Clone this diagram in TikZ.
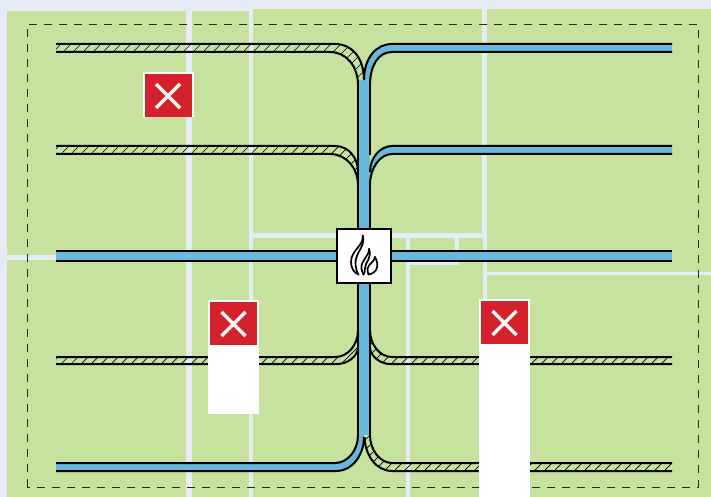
\documentclass[tikz,border=0pt]{standalone}
\definecolor{bandc}{HTML}{E6ECF6}
\definecolor{fieldc}{HTML}{C7E29E}
\definecolor{pipec}{HTML}{6AB7DE}
\definecolor{crossc}{HTML}{D4212C}
\tikzset{
  field/.style={fill=fieldc},
  pipeline/.style={draw=black,line width=2pt},
  pipefill/.style={fill=pipec},
  hatchline/.style={draw=black,line width=.7pt},
  boundary/.style={draw=black!85,line width=.8pt,dash pattern=on 8pt off 7pt},
  closedbase/.style={fill=white},
  closedred/.style={fill=crossc},
  closedx/.style={draw=white,line width=3.5pt},
}
\newcommand{\hatchfill}[1]{%
  \begin{scope}
    \clip #1;
    \foreach \k in {5,15,...,1205} {\draw[hatchline] (\k,0) -- (0,\k);}
  \end{scope}}
\newcommand{\closedmark}[3]{% centre x, centre y of red box, bottom of white
  \fill[closedbase] (#1-25.5,#2-24) rectangle (#1+25.5,#3);
  \fill[closedred] (#1-23.5,#2-22) rectangle (#1+23.5,#2+21);
  \draw[closedx] (#1-12,#2-12) -- (#1+12,#2+12) (#1-12,#2+12) -- (#1+12,#2-12);}
\begin{document}
\begin{tikzpicture}[x=1pt,y=-1pt]
\useasboundingbox (0,0) rectangle (711,497);
\fill[bandc] (0,0) rectangle (711,497);
% fields
\fill[field] (7,11) rectangle (186,255);
\fill[field] (192,11) rectangle (249,255);
\fill[field] (253,9) rectangle (482,233);
\fill[field] (487,9) rectangle (711,272);
\fill[field] (7,260) rectangle (186,497);
\fill[field] (192,260) rectangle (249,497);
\fill[field] (253,238) rectangle (406,497);
\fill[field] (410,238) rectangle (455,262);
\fill[field] (459,238) rectangle (483,265) -- (410,265) rectangle (483,497);
\fill[field] (487,275) rectangle (711,497);
% boundary
\draw[boundary] (27,487) -- (27,24) -- (698,24) -- (698,487) -- cycle;
% hatched pipes
\hatchfill{(56,44) -- (335,44) .. controls (352,44) and (364,58) .. (364,80) -- (358,85) .. controls (356,66) and (346,52) .. (330,52) -- (56,52) -- cycle}
\hatchfill{(56,146) -- (335,146) .. controls (349,146) and (358,158) .. (358,172) -- (358,185) .. controls (356,168) and (346,154) .. (330,154) -- (56,154) -- cycle}
\hatchfill{(56,357) -- (335,357) .. controls (348,357) and (358,345) .. (358,330) -- (358,347) .. controls (356,356) and (348,364) .. (337,364) -- (56,364) -- cycle}
\hatchfill{(672,357) -- (392,357) .. controls (380,357) and (370,345) .. (370,330) -- (370,347) .. controls (372,356) and (380,364) .. (390,364) -- (672,364) -- cycle}
\hatchfill{(672,463) -- (392,463) .. controls (380,463) and (370,450) .. (370,435) -- (364.5,435) .. controls (365,455) and (376,471) .. (392,471) -- (672,471) -- cycle}
% blue fills
\fill[pipefill] (56,251) rectangle (672,260.5);
\fill[pipefill] (358,80) rectangle (370,435);
\fill[pipefill] (672,44) -- (392,44) .. controls (376,44) and (364,58) .. (364,80) -- (370,85) .. controls (370,66) and (378,52) .. (392,52) -- (672,52) -- cycle;
\fill[pipefill] (672,146) -- (392,146) .. controls (380,146) and (370,158) .. (370,172) -- (370,185) .. controls (371,168) and (380,154) .. (392,154) -- (672,154) -- cycle;
\fill[pipefill] (56,463) -- (335,463) .. controls (348,463) and (358,450) .. (358,435) -- (364,435) .. controls (364,455) and (352,471) .. (337,471) -- (56,471) -- cycle;
% pipe walls
\draw[pipeline] (56,44) -- (335,44) .. controls (352,44) and (364,58) .. (364,80);
\draw[pipeline] (56,52) -- (330,52) .. controls (346,52) and (358,66) .. (358,85);
\draw[pipeline] (672,44) -- (392,44) .. controls (376,44) and (364,58) .. (364,80);
\draw[pipeline] (672,52) -- (392,52) .. controls (378,52) and (370,66) .. (370,85);
\draw[pipeline] (56,146) -- (335,146) .. controls (349,146) and (358,158) .. (358,172);
\draw[pipeline] (56,154) -- (330,154) .. controls (346,154) and (358,168) .. (358,185);
\draw[pipeline] (672,146) -- (392,146) .. controls (380,146) and (370,158) .. (370,172);
\draw[pipeline] (672,154) -- (392,154) .. controls (380,154) and (370,168) .. (370,185);
\draw[pipeline] (56,251) -- (672,251) (56,260.5) -- (672,260.5);
\draw[pipeline] (358,85) -- (358,435);
\draw[pipeline] (370,85) -- (370,155) (370,185) -- (370,435);
\draw[pipeline] (56,357) -- (335,357) .. controls (348,357) and (358,345) .. (358,330);
\draw[pipeline] (56,364) -- (337,364) .. controls (348,364) and (358,356) .. (358,347);
\draw[pipeline] (672,357) -- (392,357) .. controls (380,357) and (370,345) .. (370,330);
\draw[pipeline] (672,364) -- (390,364) .. controls (380,364) and (370,356) .. (370,347);
\draw[pipeline] (56,463) -- (335,463) .. controls (348,463) and (358,450) .. (358,435);
\draw[pipeline] (56,471) -- (337,471) .. controls (352,471) and (364,455) .. (364,437);
\draw[pipeline] (672,463) -- (392,463) .. controls (380,463) and (370,450) .. (370,435);
\draw[pipeline] (672,471) -- (392,471) .. controls (376,471) and (365,455) .. (364.5,437);
% closed markers
\closedmark{168}{96}{117}
\closedmark{233.5}{324}{414}
\closedmark{504.5}{323}{497}
% burner
\node[draw=black,line width=2pt,fill=white,minimum size=54pt,inner sep=0pt,rectangle] (burner) at (363.5,255.5) {};
\begin{scope}[line width=1.7pt,line cap=round,line join=round]
\draw (362.7,235.5) .. controls (364,246) and (351,250) .. (351,262) .. controls (351,268) and (354,273) .. (358.5,274.5);
\draw (362.7,235.5) .. controls (366,246) and (355.5,252) .. (355.5,263) .. controls (355.5,268) and (357,272) .. (358.5,274.5);
\draw (369,249) .. controls (369,257) and (360.5,260) .. (361.5,269) .. controls (361.8,271) and (363,273) .. (363.5,274.5);
\draw (369,249) .. controls (372.5,258) and (365,262) .. (365,268) .. controls (365,271) and (364.5,273) .. (363.5,274.5);
\draw (375,257) .. controls (374.5,262) and (368,264) .. (367.5,269) .. controls (367.4,271) and (368,273) .. (368.5,274.5);
\draw (375,257) .. controls (379.5,265) and (377.5,273) .. (368.5,274.5);
\end{scope}
\end{tikzpicture}
\end{document}
